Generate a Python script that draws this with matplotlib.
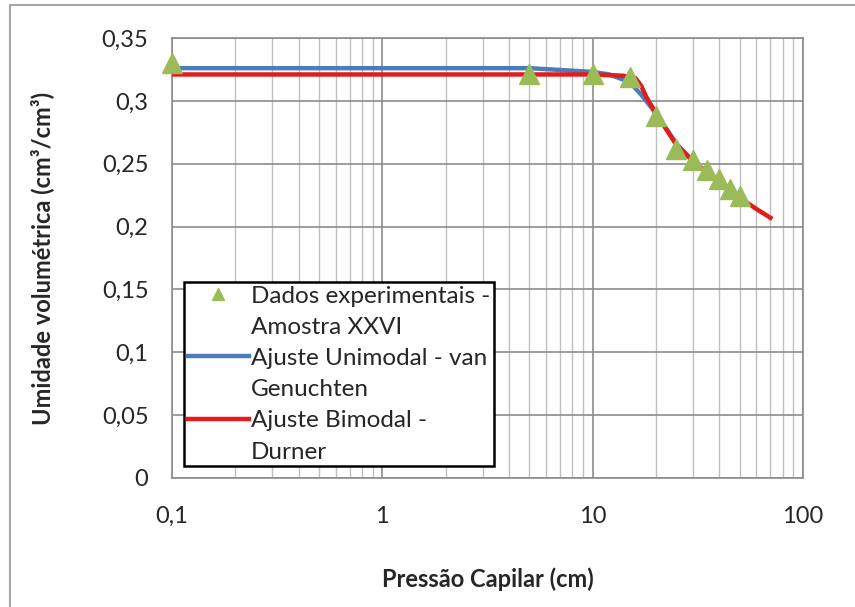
import matplotlib.pyplot as plt
from matplotlib.lines import Line2D
from matplotlib.patches import Rectangle
from matplotlib.ticker import FixedLocator, LogLocator, NullFormatter

plt.rcParams['font.family'] = ['Lato', 'DejaVu Sans']

# dados experimentais
x_exp = [0.1, 5, 10, 15, 20, 25, 30, 35, 40, 45, 50]
y_exp = [0.330, 0.321, 0.321, 0.319, 0.288, 0.262, 0.253, 0.245, 0.238, 0.230, 0.224]

# ajuste unimodal - van Genuchten
x_uni = [0.1, 3, 5, 8, 10, 12, 15, 17, 20, 25, 30, 35, 40, 45, 50]
y_uni = [0.326, 0.326, 0.326, 0.324, 0.323, 0.321, 0.315, 0.305, 0.290, 0.266, 0.252, 0.243, 0.236, 0.229, 0.224]

# ajuste bimodal - Durner
x_bi = [0.1, 5, 10, 14, 16, 17, 18, 20, 25, 30, 35, 40, 50, 60, 70]
y_bi = [0.321, 0.321, 0.321, 0.320, 0.318, 0.312, 0.303, 0.290, 0.265, 0.252, 0.243, 0.236, 0.223, 0.214, 0.207]

y_ticks = [0, 0.05, 0.1, 0.15, 0.2, 0.25, 0.3, 0.35]
y_labels = ["0", "0,05", "0,1", "0,15", "0,2", "0,25", "0,3", "0,35"]
x_ticks = [0.1, 1, 10, 100]
x_labels = ["0,1", "1", "10", "100"]

fig = plt.figure(figsize=(8.55, 6.07), dpi=100)
fig.patches.append(Rectangle((10 / 855, -0.1), 1.2, (607 - 5) / 607 + 0.1,
                             transform=fig.transFigure, fill=False,
                             edgecolor='#a6a6a6', lw=1.5))

ax = fig.add_axes([172 / 855, (607 - 478) / 607, 631 / 855, 440 / 607])
ax.set_xscale('log')
ax.set_xlim(0.1, 100)
ax.set_ylim(0, 0.35)

l_uni, = ax.plot(x_uni, y_uni, color='#4a7ebb', lw=3.2, zorder=3)
l_bi, = ax.plot(x_bi, y_bi, color='#e41a1c', lw=3.2, zorder=4)
l_exp, = ax.plot(x_exp, y_exp, '^', color='#9bbb59', markersize=14, ls='none',
                 clip_on=False, zorder=5)

ax.yaxis.set_major_locator(FixedLocator(y_ticks))
ax.set_yticklabels(y_labels)
ax.xaxis.set_major_locator(FixedLocator(x_ticks))
ax.set_xticklabels(x_labels)
ax.xaxis.set_minor_locator(LogLocator(base=10, subs=range(2, 10)))
ax.xaxis.set_minor_formatter(NullFormatter())
ax.tick_params(which='both', length=0, labelsize=17, colors='#262626')
ax.tick_params(axis='x', pad=20)
ax.tick_params(axis='y', pad=17)

ax.grid(True, which='major', color='#8c8c8c', lw=1.2)
ax.grid(True, which='minor', axis='x', color='#c0c0c0', lw=1)
ax.set_axisbelow(True)
for s in ax.spines.values():
    s.set_color('#8c8c8c')
    s.set_linewidth(1.2)

ax.set_xlabel("Pressão Capilar (cm)", fontsize=17, fontweight='bold', labelpad=29, color='#262626')
ax.set_ylabel("Umidade volumétrica (cm³/cm³)", fontsize=17, fontweight='bold', labelpad=34, color='#262626')

# legenda: cada rótulo quebrado em duas linhas, símbolo na primeira
blank = Line2D([], [], color='none')
leg_handles = [l_exp, blank, l_uni, blank, l_bi, blank]
leg_labels = ["Dados experimentais -", "Amostra XXVI",
              "Ajuste Unimodal - van", "Genuchten",
              "Ajuste Bimodal -", "Durner"]
leg = ax.legend(leg_handles, leg_labels,
                loc='lower left', bbox_to_anchor=(0.008, 0.01), fontsize=17.5,
                fancybox=False, framealpha=1, edgecolor='black', handlelength=2.5,
                handletextpad=0.1, borderpad=0.15, borderaxespad=0.3,
                labelspacing=0.42, markerscale=0.6)
leg.get_frame().set_linewidth(1.8)
for t in leg.get_texts():
    t.set_color('#262626')

fig.savefig('out.png', dpi=100)
